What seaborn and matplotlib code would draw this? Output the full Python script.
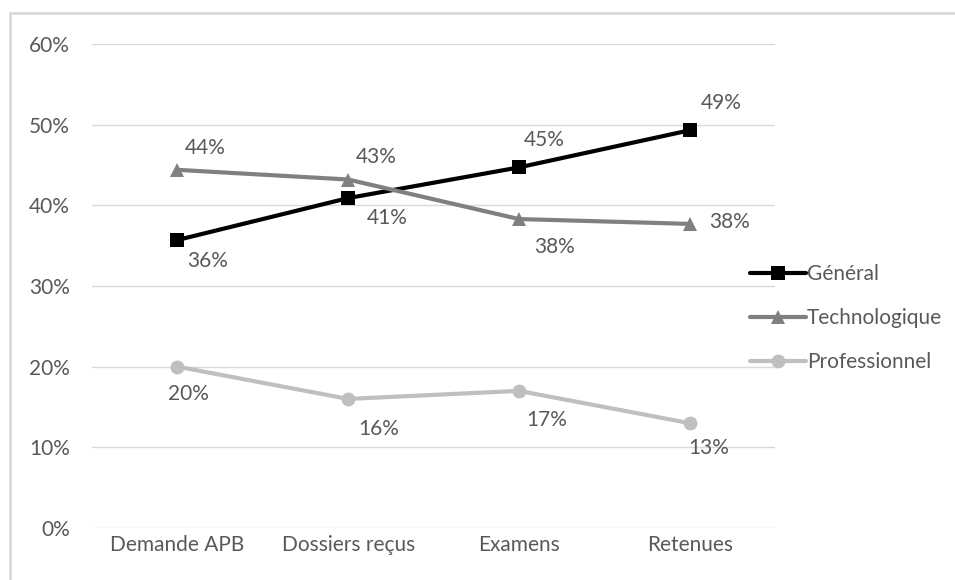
import matplotlib
matplotlib.use("Agg")
import matplotlib.pyplot as plt
import matplotlib.patches as mpatches
import seaborn as sns
import pandas as pd

categories = ["Demande APB", "Dossiers reçus", "Examens", "Retenues"]
general = [0.357, 0.409, 0.447, 0.493]
techno = [0.444, 0.432, 0.383, 0.377]
pro = [0.200, 0.160, 0.170, 0.130]
series_names = ["Général", "Technologique", "Professionnel"]
yticks = [0, 0.1, 0.2, 0.3, 0.4, 0.5, 0.6]

df = pd.DataFrame({
    "cat": categories * 3,
    "x": list(range(4)) * 3,
    "val": general + techno + pro,
    "serie": [s for s in series_names for _ in categories],
})

sns.set_style("white")
plt.rcParams["font.family"] = ["Lato", "DejaVu Sans"]
text_col = "#595959"
fs = 15
palette = {"Général": "#000000", "Technologique": "#808080", "Professionnel": "#bfbfbf"}
markers = {"Général": "s", "Technologique": "^", "Professionnel": "o"}

fig = plt.figure(figsize=(9.55, 5.8), dpi=100)
ax = fig.add_axes([92 / 955, 1 - 528 / 580, (775 - 92) / 955, (528 - 44) / 580])

# chart area border
fig.patches.append(mpatches.Rectangle((10 / 955, -0.05), 1.2, 1 - 13 / 580 + 0.05,
                                      transform=fig.transFigure, fill=False,
                                      edgecolor="#d9d9d9", linewidth=2, zorder=0))

sns.lineplot(data=df, x="x", y="val", hue="serie", style="serie", palette=palette,
             markers=markers, dashes=False, linewidth=3, markersize=10,
             markeredgewidth=0, ax=ax, legend=False)

ax.set_xlim(-0.5, 3.5)
ax.set_ylim(0, 0.6)
ax.set_yticks(yticks)
ax.set_yticklabels([f"{int(round(t * 100))}%" for t in yticks], color=text_col, fontsize=fs)
ax.set_xticks(range(4))
ax.set_xticklabels(categories, color=text_col, fontsize=fs)
ax.tick_params(axis="y", length=0, pad=16)
ax.tick_params(axis="x", length=0, pad=5)
ax.yaxis.grid(True, color="#d9d9d9", linewidth=1)
ax.set_axisbelow(True)
for s in ax.spines.values():
    s.set_visible(False)
ax.set_xlabel("")
ax.set_ylabel("")

# data labels (offsets in points)
offs = {
    "Général": [(22, -15), (28, -14), (18, 20), (23, 20)],
    "Technologique": [(20, 16), (20, 16), (26, -20), (29, 1)],
    "Professionnel": [(8, -20), (22, -22), (20, -21), (14, -18)],
}
for name, vals in zip(series_names, [general, techno, pro]):
    for i, v in enumerate(vals):
        dx, dy = offs[name][i]
        ax.annotate(f"{round(v * 100):.0f}%", (i, v), xytext=(dx, dy),
                    textcoords="offset points", ha="center", va="center",
                    color=text_col, fontsize=fs)

handles = [plt.Line2D([], [], color=palette[n], marker=markers[n], linewidth=3,
                      markersize=10, markeredgewidth=0) for n in series_names]
fig.legend(handles, series_names, loc="center left",
           bbox_to_anchor=(731 / 955, 1 - 318 / 580), frameon=False,
           handlelength=2.7, handletextpad=0.05, labelspacing=1.15,
           fontsize=fs, labelcolor=text_col)

fig.savefig("out.png", dpi=100)
